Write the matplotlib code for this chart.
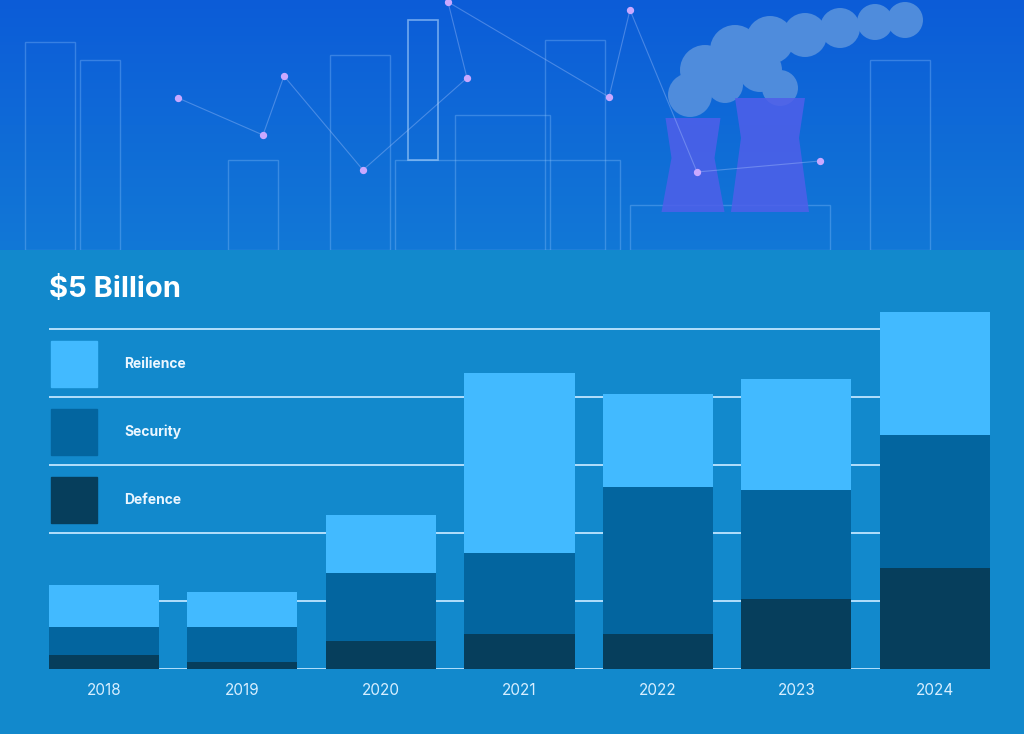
import numpy as np
import matplotlib.pyplot as plt
from matplotlib.patches import Rectangle, Circle, Polygon

# data (billions)
years = ['2018', '2019', '2020', '2021', '2022', '2023', '2024']
defence = [0.20, 0.10, 0.41, 0.51, 0.52, 1.03, 1.48]
security = [0.42, 0.52, 1.00, 1.19, 2.15, 1.60, 1.96]
reilience = [0.61, 0.51, 0.85, 2.66, 1.38, 1.63, 1.81]
grid_vals = [0, 1, 2, 3, 4, 5]

bg = '#1289CC'
c_rel = '#42BAFF'
c_sec = '#03659F'
c_def = '#063E5C'
font = ['Inter', 'DejaVu Sans']

W, H = 1024, 734
fig = plt.figure(figsize=(W / 100, H / 100), dpi=100)
fig.patch.set_facecolor(bg)

# banner at top
ban = fig.add_axes([0, 1 - 250 / H, 1, 250 / H])
grad = np.linspace(0, 1, 256).reshape(-1, 1)
top = np.array([0x0C, 0x5C, 0xD8]) / 255
bot = np.array([0x12, 0x78, 0xD6]) / 255
img = top + (bot - top) * grad[:, :, None]
img = np.repeat(img, 4, axis=1)
ban.imshow(img, aspect='auto', extent=[0, W, 250, 0])
ban.set_xlim(0, W)
ban.set_ylim(250, 0)
ban.axis('off')

# faint skyline outlines
lc = (0.6, 0.8, 1.0, 0.3)
for x0, y0, w, h in [(25, 42, 50, 208), (80, 60, 40, 190), (228, 160, 50, 90),
                     (330, 55, 60, 195), (395, 160, 225, 90), (455, 115, 95, 135),
                     (545, 40, 60, 210), (630, 205, 200, 45), (870, 60, 60, 190)]:
    ban.add_patch(Rectangle((x0, y0), w, h, fill=False, ec=lc, lw=1))
ban.add_patch(Rectangle((408, 20), 30, 140, fill=False, ec=(0.7, 0.85, 1, 0.6), lw=1.2))

# smoke
for cx, cy, rad in [(690, 95, 22), (705, 70, 25), (735, 50, 25), (770, 40, 24),
                    (805, 35, 22), (840, 28, 20), (875, 22, 18), (905, 20, 18),
                    (760, 70, 22), (780, 88, 18), (725, 85, 18)]:
    ban.add_patch(Circle((cx, cy), rad, color='#4F8CDC', lw=0))
# cooling towers
for cx, w, ttop in [(693, 55, 118), (770, 70, 98)]:
    ban.add_patch(Polygon([(cx - w / 2, ttop), (cx + w / 2, ttop),
                           (cx + w / 2 - 6, ttop + 40), (cx + w / 2 + 4, 212),
                           (cx - w / 2 - 4, 212), (cx - w / 2 + 6, ttop + 40)],
                          closed=True, color='#4F5FEA', alpha=0.85, lw=0))

nodes = [(178, 98), (263, 135), (284, 76), (363, 170), (467, 78), (448, 2), (609, 97),
         (630, 10), (697, 172), (820, 161)]
for i in range(len(nodes) - 1):
    ban.plot([nodes[i][0], nodes[i + 1][0]], [nodes[i][1], nodes[i + 1][1]],
             color=(0.7, 0.8, 1, 0.35), lw=0.8)
ban.scatter([n[0] for n in nodes], [n[1] for n in nodes], s=18, color='#C9A8FF', zorder=3)

# chart axes
base_y = 669
unit = 68.0
ymax = 5.35
ax = fig.add_axes([49 / W, (H - base_y) / H, 941 / W, ymax * unit / H])
ax.set_facecolor(bg)
x = np.arange(len(years))
width = 110 / 138.5

for g in grid_vals:
    ax.axhline(g, color='#BFE6FF', lw=1.3, zorder=1)

d = np.array(defence)
s = np.array(security)
r = np.array(reilience)
ax.bar(x, d, width, color=c_def, zorder=2)
ax.bar(x, s, width, bottom=d, color=c_sec, zorder=2)
ax.bar(x, r, width, bottom=d + s, color=c_rel, zorder=2)

ax.set_xlim(-width / 2, len(years) - 1 + width / 2)
ax.set_ylim(0, ymax)
ax.set_yticks([])
ax.set_xticks(x)
ax.set_xticklabels(years, color='#D6EEFF', fontsize=11, family=font)
ax.tick_params(axis='x', length=0, pad=10)
for sp in ax.spines.values():
    sp.set_visible(False)

# title
fig.text(49 / W, 1 - 290 / H, '$5 Billion', color='white', fontsize=21,
         fontweight='bold', family=font, va='center', ha='left')

# legend
legend = [('Reilience', c_rel, 364), ('Security', c_sec, 432), ('Defence', c_def, 500)]
for name, col, yc in legend:
    fig.patches.append(Rectangle((51 / W, 1 - (yc + 23) / H), 46 / W, 46 / H,
                                 transform=fig.transFigure, color=col, zorder=5))
    fig.text(124 / W, 1 - yc / H, name, color='#EAF6FF', fontsize=10,
             fontweight='bold', family=font, va='center', ha='left')

fig.savefig('out.png', dpi=100, facecolor=bg)
